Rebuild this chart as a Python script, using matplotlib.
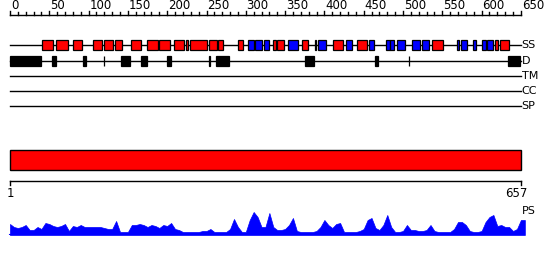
import numpy as np
import matplotlib
matplotlib.use("Agg")
import matplotlib.pyplot as plt
from matplotlib.patches import Rectangle

plt.rcParams['font.family'] = ['DejaVu Sans']

SEQ_LEN = 657

# secondary structure (residue ranges)
helix = [(41, 55), (59, 74), (80, 92), (106, 117), (120, 131), (133, 142), (154, 167),
         (174, 188), (190, 203), (209, 222), (224, 227), (229, 251), (253, 263), (265, 271),
         (290, 297), (334, 338), (340, 349), (372, 379), (411, 424), (441, 454), (537, 551),
         (617, 621), (623, 635)]
strand = [(303, 310), (312, 320), (323, 329), (354, 366), (388, 389), (392, 402), (428, 435),
          (457, 463), (479, 483), (484, 488), (492, 502), (511, 521), (524, 533), (569, 571),
          (574, 582), (589, 593), (601, 605), (607, 614)]
# disorder
disorder = [(0, 40), (54, 59), (93, 97), (119, 120), (141, 153), (167, 174), (200, 205),
            (253, 255), (262, 278), (375, 387), (464, 468), (507, 508), (634, 649)]
track_names = ['SS', 'D', 'TM', 'CC', 'SP']

# domain bar
domains = [(1, 657)]
axis_labels = ['1', '657']

# PS profile, every 5 residues
ps_step = 5
ps = [11, 8, 7, 8, 10, 5, 5, 8, 6, 12, 11, 9, 8, 9, 11, 4, 9, 8, 10, 8,
      8, 8, 8, 8, 7, 6, 6, 14, 3, 3, 3, 10, 10, 11, 10, 8, 10, 9, 7, 10,
      9, 12, 6, 5, 3, 3, 3, 3, 3, 4, 4, 6, 3, 3, 3, 3, 6, 16, 8, 3,
      3, 15, 23, 18, 8, 8, 22, 8, 5, 5, 6, 10, 17, 4, 3, 3, 3, 3, 4, 8,
      15, 10, 7, 11, 12, 3, 3, 3, 3, 4, 6, 15, 17, 7, 5, 10, 20, 8, 3, 3,
      4, 10, 5, 5, 4, 4, 5, 10, 4, 3, 3, 3, 3, 6, 13, 13, 10, 4, 3, 3,
      4, 13, 18, 20, 9, 10, 8, 8, 4, 6, 15, 15]

W, H = 550, 260
fig = plt.figure(figsize=(5.5, 2.6), dpi=100)

px = 0.786  # pixels per residue on ruler


def xlim_for(scale, left_px=10, first=0):
    return (first - left_px / scale, first + (W - left_px) / scale)


ax = fig.add_axes([0, 0, 1, 1])
ax.set_xlim(*xlim_for(px))
ax.set_ylim(H, 0)
ax.axis('off')

# ruler
ax.plot([0, 650], [15, 15], color='black', lw=1)
for t in range(0, 651, 10):
    ax.plot([t, t], [15, 12 if t % 50 else 11], color='black', lw=1)
for t in range(0, 651, 50):
    ax.text(t + 1, 12, str(t), fontsize=8.5, ha='left', va='bottom')

# tracks
rows = {'SS': 45, 'D': 61, 'TM': 76, 'CC': 91, 'SP': 106}
for name in track_names:
    y = rows[name]
    ax.plot([0, 650], [y, y], color='black', lw=1, zorder=1)
    ax.text(651, y, name, fontsize=8, ha='left', va='center')

bh = 10
for s, e in helix:
    ax.add_patch(Rectangle((s, rows['SS'] - bh / 2), e - s, bh, fc='#ff0000', ec='black', lw=0.9, zorder=2))
for s, e in strand:
    ax.add_patch(Rectangle((s, rows['SS'] - bh / 2), e - s, bh, fc='#0000ff', ec='black', lw=0.9, zorder=2))
for s, e in disorder:
    ax.add_patch(Rectangle((s, rows['D'] - bh / 2), e - s, bh, fc='black', ec='black', lw=0.9, zorder=2))

# domain bar + bottom axis (1..657 scale)
ax2 = fig.add_axes([0, 0, 1, 1])
sc2 = (521 - 10) / (SEQ_LEN - 1)
ax2.set_xlim(*xlim_for(sc2, first=1))
ax2.set_ylim(H, 0)
ax2.axis('off')
for s, e in domains:
    ax2.add_patch(Rectangle((s, 150), e - s, 20, fc='#ff0000', ec='black', lw=1))
ax2.plot([1, SEQ_LEN], [181, 181], color='black', lw=1)
for t in [1, SEQ_LEN]:
    ax2.plot([t, t], [181, 185], color='black', lw=1)
ax2.text(1, 187, axis_labels[0], fontsize=8.5, ha='center', va='top')
ax2.text(SEQ_LEN - 6, 187, axis_labels[1], fontsize=8.5, ha='center', va='top')

# PS profile
ax3 = fig.add_axes([0, 25 / H, 1, 30 / H])
ax3.set_xlim(*xlim_for(px))
ax3.set_ylim(0, 30)
ax3.axis('off')
xs = np.arange(len(ps)) * ps_step
ax3.fill_between(xs, 0, ps, color='#0000ff', lw=0.5, edgecolor='#0000ff')
ax3.plot([0, 652], [0.3, 0.3], color='#0000ff', lw=1.5)
ax.text(651, 211, 'PS', fontsize=8, ha='left', va='center')

fig.savefig('out.png', dpi=100)
